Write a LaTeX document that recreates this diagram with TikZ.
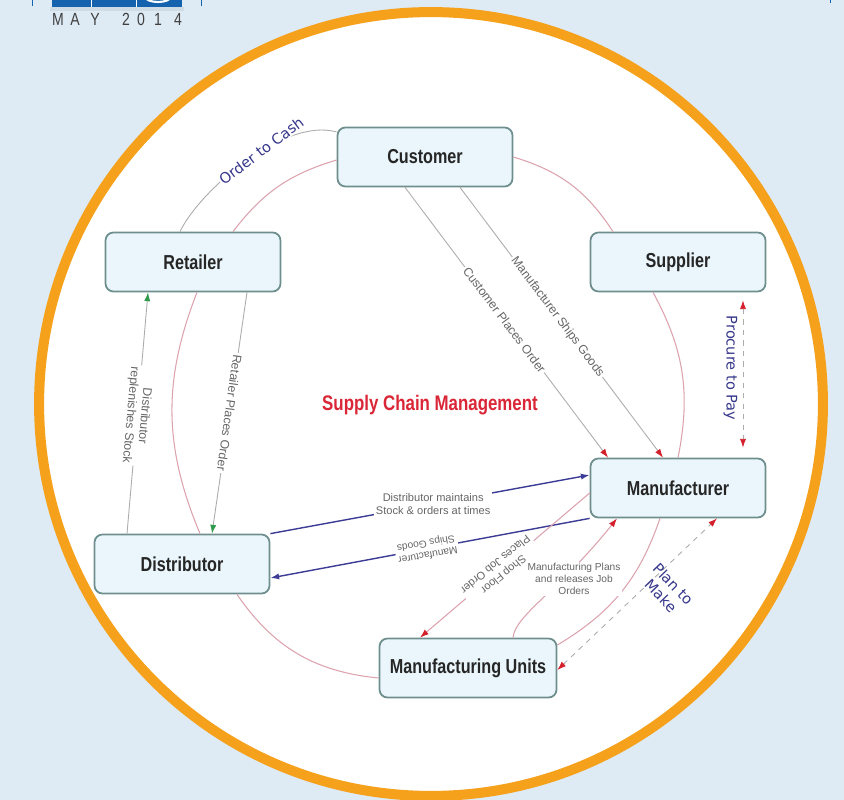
\documentclass[tikz,border=0pt]{standalone}
\usepackage{fontspec}
\setmainfont{Liberation Sans}
\newfontfamily\boxfont[FakeStretch=0.8]{Liberation Sans}
\newfontfamily\handfont{DejaVu Sans}
\usetikzlibrary{arrows.meta}

\definecolor{pagebg}{HTML}{DEEAF4}
\definecolor{ringorange}{HTML}{F5A11C}
\definecolor{boxfill}{HTML}{EAF6FB}
\definecolor{boxline}{HTML}{6E8F8E}
\definecolor{cyclepink}{HTML}{DCA3AE}
\definecolor{tipred}{HTML}{D3202C}
\definecolor{tipgreen}{HTML}{2F9A4C}
\definecolor{navy}{HTML}{3C3C96}
\definecolor{cyclelbl}{HTML}{37378C}
\definecolor{headblue}{HTML}{1563AE}
\definecolor{titlered}{HTML}{DA2737}

\tikzset{
  box/.style = {draw = boxline, line width = 1pt, fill = boxfill, rounded corners = 4.5pt,
    minimum width = 3.5cm, minimum height = 1.18cm, text = black!85,
    font = \boxfont\bfseries\fontsize{11.5}{13}\selectfont},
  flow/.style = {draw = gray!65, line width = 0.5pt},
  pinkline/.style = {draw = cyclepink, line width = 0.6pt},
  navyline/.style = {draw = navy, line width = 0.8pt},
  lbl/.style = {fill = white, inner sep = 1pt, text = gray!80!black, align = center,
    font = \fontsize{7}{8}\selectfont},
  cyclelabel/.style = {text = cyclelbl, align = center,
    font = \handfont\fontsize{8.3}{9.8}\selectfont},
  red tip/.style = {-{Latex[length = 5pt, width = 3.5pt, color = tipred]}},
  both red/.style = {{Latex[length = 5pt, width = 3.5pt, color = tipred]}-{Latex[length = 5pt, width = 3.5pt, color = tipred]}},
  green tip/.style = {-{Latex[length = 5pt, width = 3.5pt, color = tipgreen]}},
  navy tip/.style = {-{Latex[length = 5pt, width = 3.5pt, color = navy]}},
  datechar/.style = {text = black!75, inner sep = 0pt, font = \boxfont\fontsize{10}{11}\selectfont}
}

\begin{document}
\begin{tikzpicture}[x = 0.02cm, y = -0.02cm]
\useasboundingbox (0, 0) rectangle (844, 800);
\clip (0, 0) rectangle (844, 800);
\fill [pagebg] (0, 0) rectangle (844, 800);

% header
\fill [black, opacity = 0.06] (50, 7) rectangle (184, 11);
\fill [headblue] (52, 0) rectangle (182, 7);
\draw [white, line width = 0.5pt] (91, 0) -- (91, 7) (136, 0) -- (136, 7);
\draw [white, line width = 1.2pt] (158, -3) ellipse [x radius = 0.25cm, y radius = 0.1cm];
\draw [headblue, line width = 0.5pt] (32, 0) -- (32, 6) (201, 0) -- (201, 6) (830, 0) -- (830, 3);
\foreach \ch/\xx in {M/58, A/75, Y/95, 2/126, 0/141, 1/158, 4/178}
  \node [datechar] (date-\xx) at (\xx, 19) {\ch};

% frame
\fill [white] (431, 404) circle [radius = 7.84cm];
\draw [ringorange, line width = 5.7pt] (431, 404) circle [radius = 7.84cm];

% nodes
\node [box] (cust) at (425, 157) {Customer};
\node [box] (ret) at (193, 262) {Retailer};
\node [box] (supp) at (678, 262) {Supplier};
\node [box] (manu) at (678, 488) {Manufacturer};
\node [box] (dist) at (182, 564) {Distributor};
\node [box, minimum width = 3.54cm] (mu) at (468, 668) {Manufacturing Units};
\node [text = titlered, font = \boxfont\bfseries\fontsize{12}{14}\selectfont] (scm) at (430, 405) {Supply Chain Management};

% cycle
\draw [pinkline] ([xshift = 0.8cm]ret.north) to [bend left = 18] ([yshift = -0.06cm]cust.west);
\draw [pinkline] (cust.east) to [bend left = 20] ([xshift = -1.3cm]supp.north);
\draw [pinkline] ([xshift = -0.5cm]supp.south) to [bend left = 20] (manu.north);
\draw [pinkline] ([xshift = -0.36cm]manu.south) to [bend left = 20] ([yshift = 0.46cm]mu.east);
\draw [pinkline] ([yshift = -0.2cm]mu.west) to [bend left = 25] ([xshift = 1.1cm]dist.south);
\draw [pinkline] ([xshift = 0.36cm]dist.north) to [bend left = 22] ([xshift = 0.08cm]ret.south);

% order to cash
\draw [flow] ([xshift = -0.26cm]ret.north) .. controls (200, 190) and (285, 117) .. ([yshift = 0.5cm]cust.west)
  node [cyclelabel, rotate = 37, pos = 0.58, fill = white, inner sep = 0.5pt] {Order to Cash};

% customer side
\draw [flow, red tip] ([xshift = -0.4cm]cust.south) -- node [lbl, pos = 0.49, rotate = -53] {Customer Places Order} ([xshift = -1.4cm]manu.north);
\draw [flow, red tip] ([xshift = 0.7cm]cust.south) -- node [lbl, pos = 0.48, rotate = -53] {Manufacturer Ships Goods} ([xshift = -0.3cm]manu.north);
\draw [flow, dashed, both red] ([xshift = 1.3cm, yshift = -0.16cm]supp.south) -- node [cyclelabel, rotate = -90, anchor = north, pos = 0.46, inner sep = 3pt] {Procure to Pay} ([xshift = 1.3cm, yshift = 0.2cm]manu.north);

% retailer and distributor
\draw [flow, green tip] ([xshift = -1.1cm]dist.north) -- node [lbl, rotate = -95, pos = 0.49] {Distributor\\replenishes Stock} ([xshift = -0.9cm]ret.south);
\draw [flow, green tip] ([xshift = 1.08cm]ret.south) -- node [lbl, rotate = -98, pos = 0.5] {Retailer Places Order} ([xshift = 0.6cm]dist.north);
\draw [navyline, navy tip] (dist.north east) -- node [lbl, pos = 0.51, font = \fontsize{6.3}{7.5}\selectfont] {Distributor maintains\\Stock \& orders at times} ([yshift = 0.26cm]manu.west);
\draw [navyline, navy tip] (manu.south west) -- node [lbl, pos = 0.51, rotate = 190, font = \fontsize{5.8}{6.8}\selectfont] {Manufacturer\\Ships Goods} ([yshift = -0.28cm]dist.east);

% shop floor
\draw [pinkline, red tip] ([yshift = -0.1cm]manu.west) -- node [lbl, pos = 0.53, rotate = 219, font = \fontsize{6.3}{7.5}\selectfont] {Shop Floor\\Places Job Order} ([xshift = -0.96cm]mu.north);
\draw [pinkline, red tip] ([xshift = 0.9cm]mu.north) .. controls (515, 615) and (560, 590) .. ([xshift = -1.22cm]manu.south);
\node [lbl, font = \fontsize{5.8}{6.8}\selectfont] (mplans) at (574, 579) {Manufacturing Plans\\and releases Job\\Orders};
\draw [flow, dashed, both red] ([yshift = -0.04cm]mu.east) -- ([xshift = 0.78cm]manu.south);
\node [cyclelabel, rotate = -46] (plan) at (667, 590) {Plan to\\Make};
\end{tikzpicture}
\end{document}
